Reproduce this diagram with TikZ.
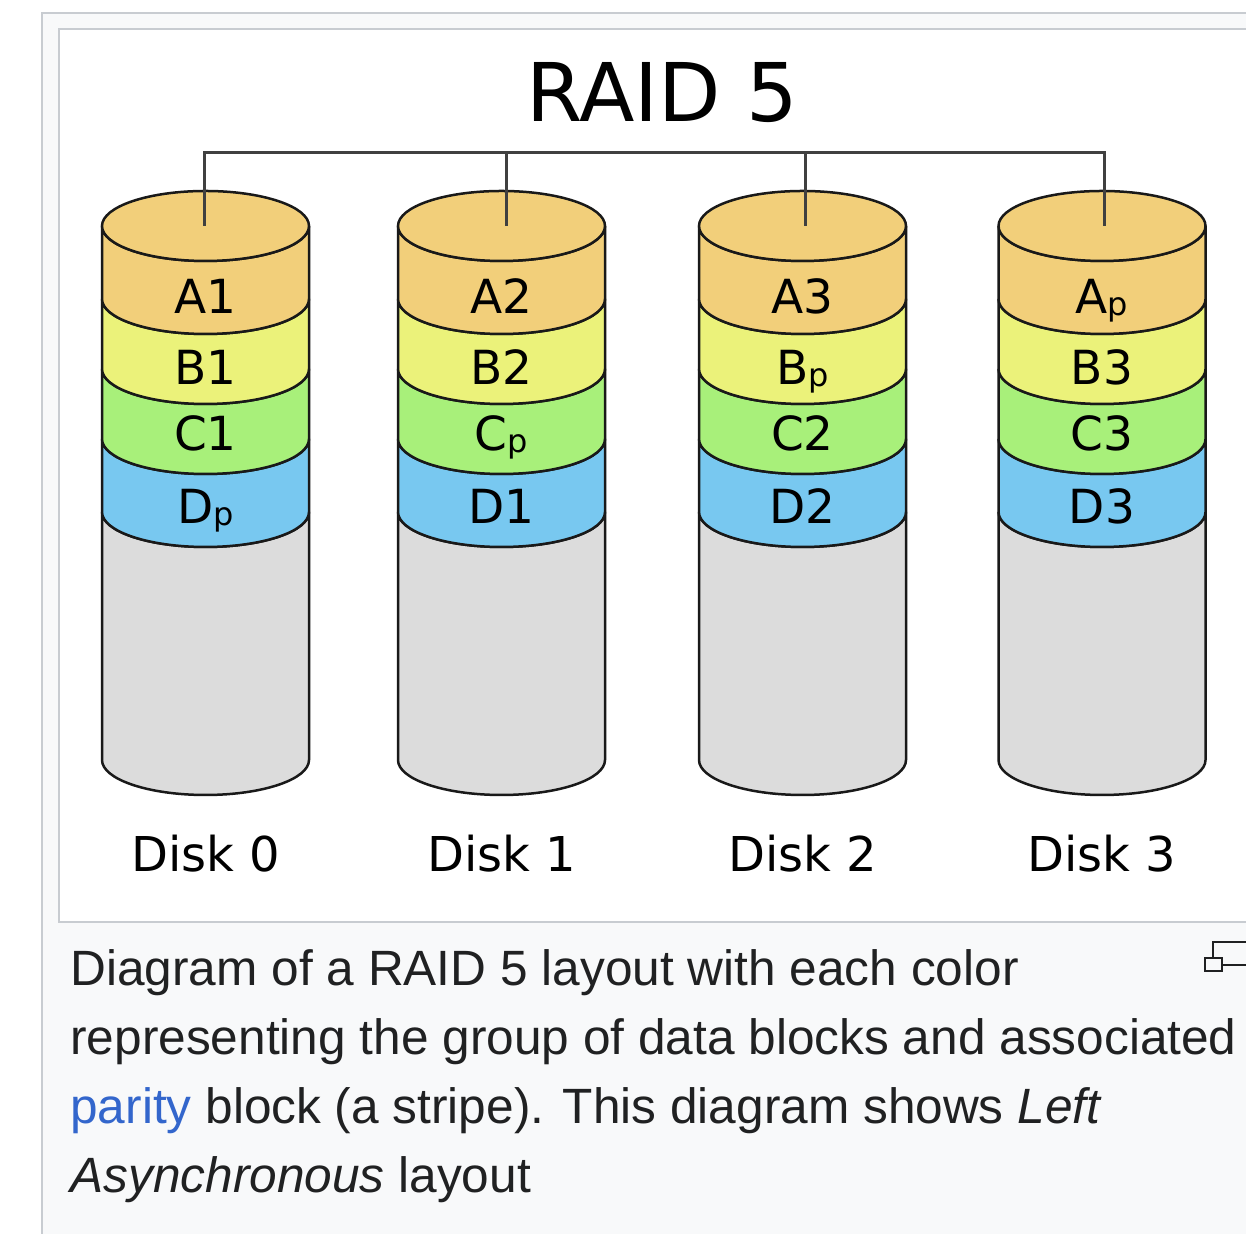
\documentclass[tikz,border=0pt]{standalone}
\usepackage{fontspec}
\setmainfont{Liberation Sans}
\newfontfamily\dejavu{DejaVu Sans}
\definecolor{panelbg}{HTML}{F8F9FA}
\definecolor{frameline}{HTML}{C8CCD1}
\definecolor{captext}{HTML}{202122}
\definecolor{linkblue}{HTML}{3366CC}
\definecolor{bandA}{HTML}{F2CF7A}
\definecolor{bandB}{HTML}{EBF27A}
\definecolor{bandC}{HTML}{A8F07A}
\definecolor{bandD}{HTML}{78C8F0}
\definecolor{bandE}{HTML}{DCDCDC}
\tikzset{
  cyl/.style={draw=black!90, line width=1.25pt},
  busline/.style={draw=black!75, line width=1.5pt},
  blocklabel/.style={anchor=base, inner sep=0pt, font=\dejavu\fontsize{23.5}{23.5}\selectfont},
  disklabel/.style={anchor=base, inner sep=0pt, font=\dejavu\fontsize{24}{24}\selectfont},
  captionline/.style={anchor=base west, inner sep=0pt, text=captext, font=\fontsize{24.8}{24.8}\selectfont},
  framebox/.style={draw=frameline, line width=1pt},
}
\newcommand\pp{\raisebox{-0.8pt}{\fontsize{16}{16}\selectfont p}}
% band between front arcs at #3 (top) and #4 (bottom), centre #1, colour #2
\newcommand\raidband[4]{%
  \filldraw[cyl, fill=#2] (#1-103.5,#3) -- (#1-103.5,#4)
    arc[start angle=180, end angle=360, x radius=103.5, y radius=35]
    -- (#1+103.5,#3)
    arc[start angle=0, end angle=-180, x radius=103.5, y radius=35] -- cycle;}
% #1 centre x, #2..#5 labels, #6 index
\newcommand\raiddisk[6]{%
  \raidband{#1}{bandE}{722}{474}
  \raidband{#1}{bandD}{795}{722}
  \raidband{#1}{bandC}{865}{795}
  \raidband{#1}{bandB}{935}{865}
  \raidband{#1}{bandA}{1008}{935}
  \filldraw[cyl, fill=bandA] (#1,1008) ellipse[x radius=103.5, y radius=35];
  \node[blocklabel] (a#6) at (#1,920) {#2};
  \node[blocklabel] (b#6) at (#1,849) {#3};
  \node[blocklabel] (c#6) at (#1,783) {#4};
  \node[blocklabel] (d#6) at (#1,710) {#5};
  \node[disklabel] (disk#6) at (#1,362) {Disk #6};
}
\begin{document}
\begin{tikzpicture}[x=0.5pt, y=0.5pt]
\useasboundingbox (0,0) rectangle (1246,1234);
\fill[white] (0,0) rectangle (1246,1234);
\begin{scope}
  \clip (0,0) rectangle (1246,1234);
  \filldraw[framebox, fill=panelbg] (42,-20) rectangle (1280,1221);
  \filldraw[framebox, fill=white] (59,312) rectangle (1280,1205);
  % enlarge icon
  \draw[captext, line width=1pt] (1213,292) rectangle (1252,269);
  \filldraw[captext, fill=panelbg, line width=1pt] (1205,276) rectangle (1222,263);
\end{scope}

% title
\node[anchor=base, inner sep=0pt, font=\dejavu\fontsize{40.5}{40.5}\selectfont] (title) at (662,1112) {RAID 5};

% disks
\raiddisk{205.5}{A1}{B1}{C1}{D\pp}{0}
\raiddisk{501.5}{A2}{B2}{C\pp}{D1}{1}
\raiddisk{802.5}{A3}{B\pp}{C2}{D2}{2}
\raiddisk{1102}{A\pp}{B3}{C3}{D3}{3}

% bus connecting the disks
\coordinate (bus) at (0,1081);
\coordinate (t0) at (204,1008);
\coordinate (t1) at (506,1008);
\coordinate (t2) at (805,1008);
\coordinate (t3) at (1104,1008);
\draw[busline, line join=miter] (t0) -- (t0 |- bus) -- (t3 |- bus) -- (t3);
\draw[busline] (t1) -- (t1 |- bus);
\draw[busline] (t2) -- (t2 |- bus);

% caption
\node[captionline] (cap1) at (70,248) {Diagram of a RAID 5 layout with each color};
\node[captionline] (cap2) at (70,179) {representing the group of data blocks and associated};
\node[captionline] (cap3) at (70,110) {\textcolor{linkblue}{parity} block (a stripe). This diagram shows \textit{Left}};
\node[captionline] (cap4) at (70,41) {\textit{Asynchronous} layout};
\end{tikzpicture}
\end{document}
